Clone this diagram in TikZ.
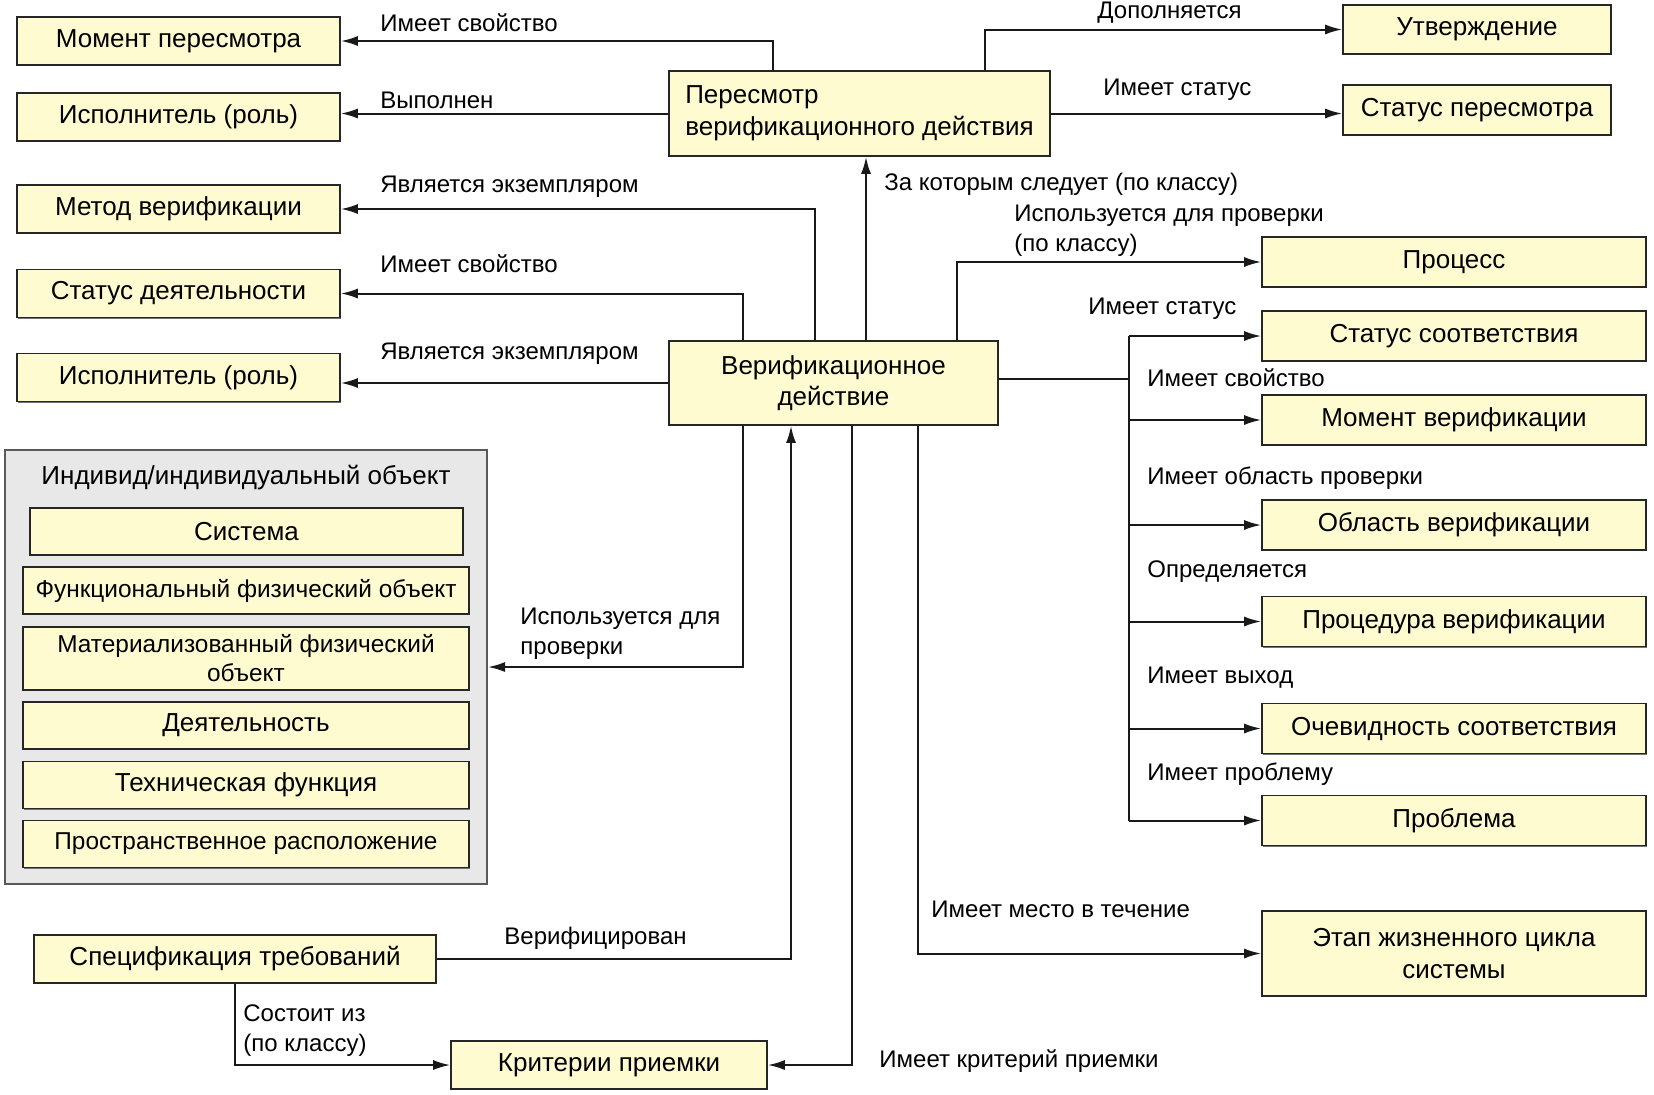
\documentclass[tikz,border=0pt]{standalone}
\usepackage{fontspec}
\setmainfont{Liberation Sans}
\usetikzlibrary{arrows.meta,shadows}
\definecolor{boxfill}{RGB}{255,251,208}
\definecolor{grpfill}{RGB}{232,232,232}
\begin{document}
\begin{tikzpicture}[x=0.5pt, y=-0.5pt,
    box/.style={draw=black!85, fill=boxfill, line width=0.8pt, inner sep=0pt, align=center,
        font=\fontsize{13}{15.8}\selectfont,
        drop shadow={shadow xshift=0.7pt, shadow yshift=-0.7pt, fill=black!55, opacity=1}},
    lbox/.style={box, minimum width=161.5pt, minimum height=24pt},
    rbox/.style={box, minimum width=192pt, minimum height=25pt},
    ibox/.style={box, minimum width=223pt, minimum height=23.5pt},
    small/.style={font=\fontsize{12.2}{14.5}\selectfont},
    lab/.style={anchor=west, inner sep=0pt, align=left, font=\fontsize{12}{15}\selectfont},
    link/.style={draw=black!90, line width=1pt},
    arr/.style={link, -{Latex[length=8.5pt, width=5pt]}}]
    \useasboundingbox (0,0) rectangle (1654,1094);

    \node[lbox] (mp) at (178.5,41) {Момент пересмотра};
    \node[lbox] (ip1) at (178.5,117) {Исполнитель (роль)};
    \node[lbox] (mv) at (178.5,209) {Метод верификации};
    \node[lbox] (sd) at (178.5,293.5) {Статус деятельности};
    \node[lbox] (ip2) at (178.5,377.5) {Исполнитель (роль)};
    \node[box, minimum width=190.5pt, minimum height=42.5pt, align=left] (rev) at (859.5,113.5) {Пересмотр\\верификационного действия};
    \node[box, minimum width=134pt, minimum height=24.5pt] (ut) at (1477,29.5) {Утверждение};
    \node[box, minimum width=134pt, minimum height=25pt] (sp) at (1477,110) {Статус пересмотра};
    \node[box, minimum width=164.5pt, minimum height=42pt] (ver) at (833.5,383) {Верификационное\\действие};

    \node[rbox] (pr) at (1454,262) {Процесс};
    \node[rbox] (ss) at (1454,336) {Статус соответствия};
    \node[rbox] (mver) at (1454,420) {Момент верификации};
    \node[rbox] (ov) at (1454,525) {Область верификации};
    \node[rbox] (pv) at (1454,621.5) {Процедура верификации};
    \node[rbox] (oc) at (1454,728.5) {Очевидность соответствия};
    \node[rbox] (pb) at (1454,820.5) {Проблема};
    \node[rbox, minimum height=42.5pt] (et) at (1454,953.5) {Этап жизненного цикла\\системы};

    \node[draw=black!65, fill=grpfill, line width=1pt, minimum width=241pt, minimum height=217pt, inner sep=0pt] (grp) at (246,667) {};
    \node[font=\fontsize{13}{15.8}\selectfont, inner sep=0pt] (grpt) at (246,478) {Индивид/индивидуальный объект};
    \node[ibox, minimum width=216.5pt] (sys) at (246.5,531.5) {Система};
    \node[ibox, small] (ffo) at (246,590.5) {Функциональный физический объект};
    \node[ibox, small, minimum height=31.5pt] (mfo) at (246,658.5) {Материализованный физический\\объект};
    \node[ibox] (dt) at (246,725.5) {Деятельность};
    \node[ibox] (tf) at (246,785) {Техническая функция};
    \node[ibox, small] (pro) at (246,844) {Пространственное расположение};

    \node[box, minimum width=201pt, minimum height=24pt] (spec) at (235,959) {Спецификация требований};
    \node[box, minimum width=158pt, minimum height=24pt] (kp) at (609,1065) {Критерии приемки};

    \draw[arr] (773,0 |- rev.north) |- (mp.east);
    \draw[arr] (rev.west) -- (rev.west -| ip1.east);
    \draw[arr] (985,0 |- rev.north) |- (ut.west);
    \draw[arr] (rev.east) -- (rev.east -| sp.west);
    \draw[arr] (866,0 |- ver.north) -- (866,0 |- rev.south);
    \draw[arr] (815,0 |- ver.north) |- (mv.east);
    \draw[arr] (743,0 |- ver.north) |- (sd.east);
    \draw[arr] (ver.west) -- (ver.west -| ip2.east);
    \draw[arr] (957,0 |- ver.north) |- (pr.west);
    \coordinate (tr) at (1129,379);
    \draw[link] (ver.east |- tr) -- (tr);
    \draw[link] (tr |- ss.west) -- (tr |- pb.west);
    \foreach \n in {ss,mver,ov,pv,oc,pb}
        \draw[arr] (tr |- \n.west) -- (\n.west);
    \draw[arr] (743,0 |- ver.south) |- (grp.east);
    \draw[arr] (spec.east) -| (791,0 |- ver.south);
    \draw[arr] (918,0 |- ver.south) |- (et.west);
    \draw[arr] (852,0 |- ver.south) |- (kp.east);
    \draw[arr] (spec.south) |- (kp.west);

    \node[lab] (l1) at (380,23) {Имеет свойство};
    \node[lab] (l2) at (380,100) {Выполнен};
    \node[lab] (l3) at (1097,13) {Дополняется};
    \node[lab] (l4) at (1103,90) {Имеет статус};
    \node[lab] (l5) at (884,184) {За которым следует (по классу)};
    \node[lab] (l6) at (380,187) {Является экземпляром};
    \node[lab] (l7) at (1014,231) {Используется для проверки\\(по классу)};
    \node[lab] (l8) at (380,264) {Имеет свойство};
    \node[lab] (l9) at (1088,309) {Имеет статус};
    \node[lab] (l10) at (380,354) {Является экземпляром};
    \node[lab] (l11) at (1147,378) {Имеет свойство};
    \node[lab] (l12) at (1147,478) {Имеет область проверки};
    \node[lab] (l13) at (1147,572) {Определяется};
    \node[lab] (l14) at (1147,678) {Имеет выход};
    \node[lab] (l15) at (1147,774) {Имеет проблему};
    \node[lab] (l16) at (520,634) {Используется для\\проверки};
    \node[lab] (l17) at (931,909) {Имеет место в течение};
    \node[lab] (l18) at (504,938) {Верифицирован};
    \node[lab] (l19) at (243,1031) {Состоит из\\(по классу)};
    \node[lab] (l20) at (879,1061) {Имеет критерий приемки};
\end{tikzpicture}
\end{document}
